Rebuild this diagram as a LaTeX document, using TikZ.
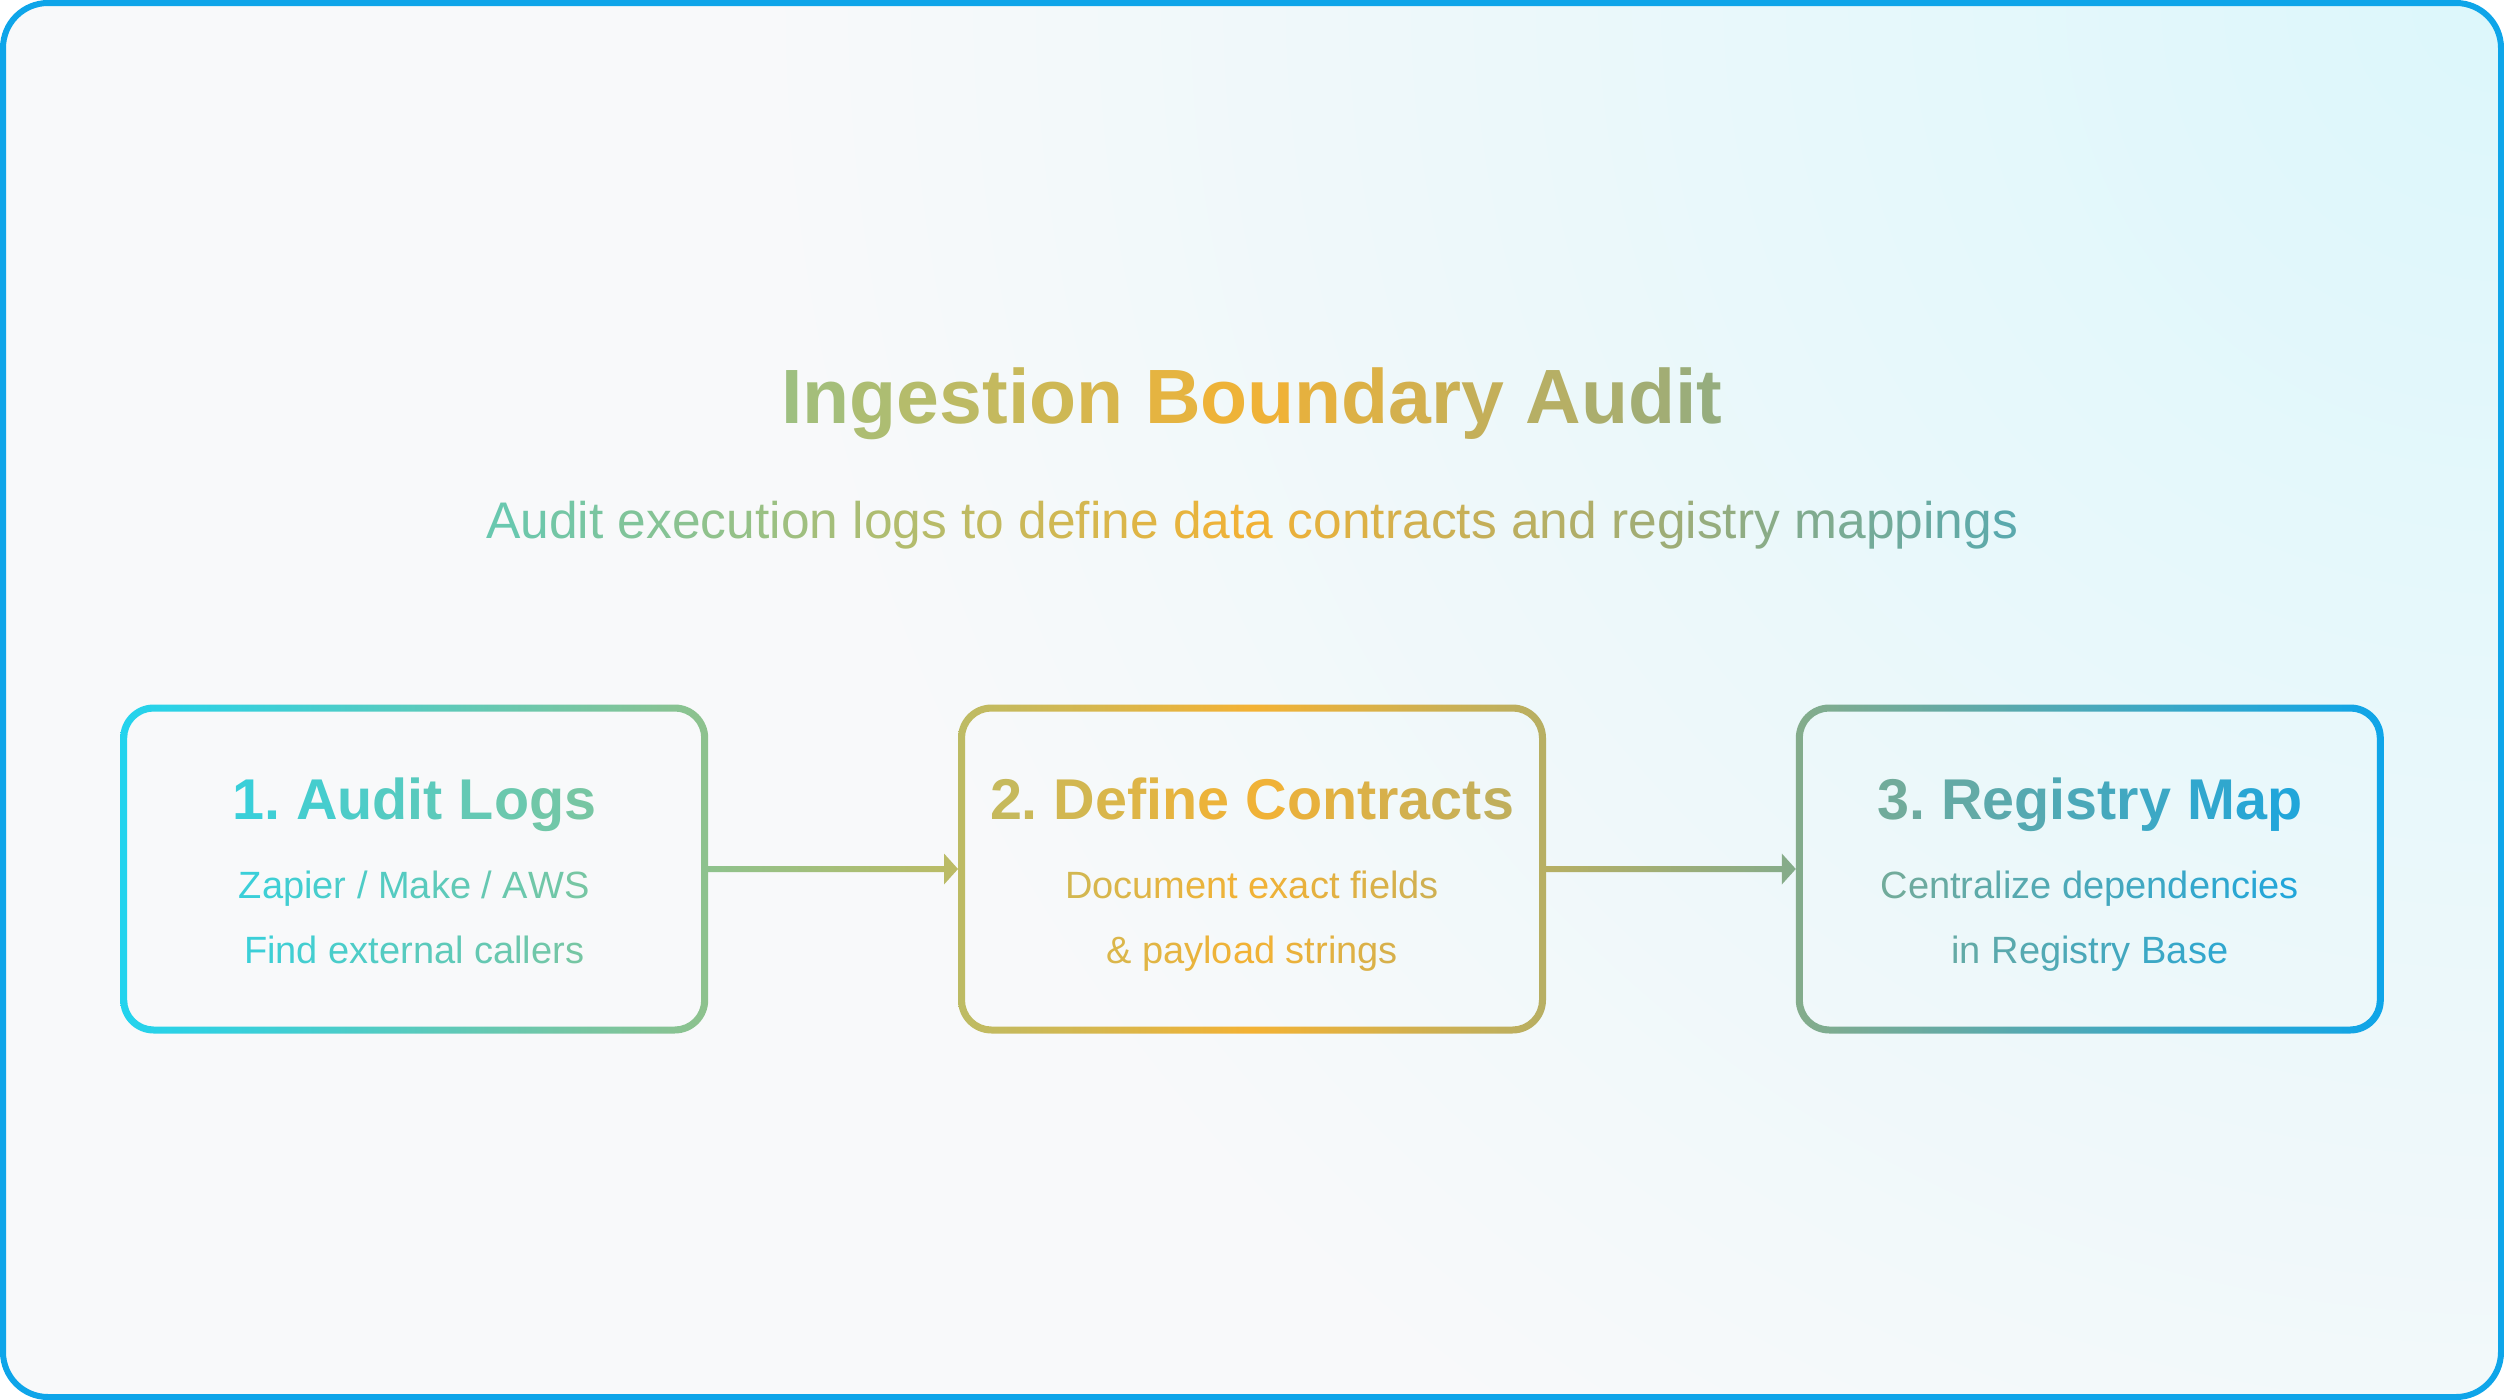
\documentclass[tikz,border=0pt]{standalone}
\usepackage{fontspec}
\setmainfont{Liberation Sans}
\usetikzlibrary{calc}

\definecolor{framec}{RGB}{14,165,233}
\definecolor{bgbase}{RGB}{248,249,250}
\definecolor{bgcyan}{RGB}{220,247,251}

\ExplSyntaxOn
\box_new:N \l__gr_box
\dim_new:N \l__gr_cur_dim
\dim_new:N \l__gr_tot_dim
\dim_new:N \l__gr_w_dim
\fp_new:N \l__gr_t_fp
\tl_new:N \l__gr_rgb_tl
\tl_new:N \l__gr_text_tl
\cs_new_protected:Npn \__gr_sp:
 { \tex_hskip:D \tex_fontdimen:D 2 \tex_font:D \scan_stop: }
\cs_new_protected:Npn \__gr_mix:nnnnnn #1#2#3#4#5#6
 {
  \tl_set:Nx \l__gr_rgb_tl
   {
    \fp_eval:n { round(#1 + (#4 - #1) * \l__gr_t_fp) } ,
    \fp_eval:n { round(#2 + (#5 - #2) * \l__gr_t_fp) } ,
    \fp_eval:n { round(#3 + (#6 - #3) * \l__gr_t_fp) }
   }
 }
\cs_new_protected:Npn \__gr_rgb:n #1
 {
  \fp_compare:nNnTF {#1} < {1250}
   {
    \fp_set:Nn \l__gr_t_fp { max(0, min(1, ((#1) - 123) / 1127)) }
    \__gr_mix:nnnnnn {34}{211}{238}{243}{178}{52}
   }
   {
    \fp_set:Nn \l__gr_t_fp { max(0, min(1, ((#1) - 1250) / 1131)) }
    \__gr_mix:nnnnnn {243}{178}{52}{14}{165}{233}
   }
 }
\NewDocumentCommand \gradcolor { m m }
 {
  \__gr_rgb:n {#2}
  \use:x { \exp_not:N \definecolor {#1} {RGB} { \l__gr_rgb_tl } }
 }
\NewDocumentCommand \gtext { m m }
 {
  \tl_set:Nn \l__gr_text_tl {#2}
  \tl_replace_all:Nnn \l__gr_text_tl { ~ } { \__gr_sp: }
  \dim_zero:N \l__gr_tot_dim
  \tl_map_inline:Nn \l__gr_text_tl
   {
    \hbox_set:Nn \l__gr_box {##1}
    \dim_add:Nn \l__gr_tot_dim { \box_wd:N \l__gr_box }
   }
  \dim_set:Nn \l__gr_cur_dim { #1 pt - \l__gr_tot_dim / 2 }
  \tl_map_inline:Nn \l__gr_text_tl
   {
    \hbox_set:Nn \l__gr_box {##1}
    \dim_set:Nn \l__gr_w_dim { \box_wd:N \l__gr_box }
    \__gr_rgb:n { \dim_to_fp:n { \l__gr_cur_dim + \l__gr_w_dim / 2 } }
    \hbox_to_wd:nn { \l__gr_w_dim } { \use:x { \exp_not:N \color [RGB] { \l__gr_rgb_tl } } ##1 \hss }
    \dim_add:Nn \l__gr_cur_dim { \l__gr_w_dim }
   }
 }
\ExplSyntaxOff

% colours of the global flow gradient at given x positions
\gradcolor{bAl}{120.5}\gradcolor{bAr}{707.9}
\gradcolor{bBl}{958.3}\gradcolor{bBm}{1252}\gradcolor{bBr}{1545.7}
\gradcolor{bCl}{1796.3}\gradcolor{bCr}{2383.5}

\newcommand\boxring[1]{%
  ([shift={(-3.5pt,3.5pt)}]#1.north west) [rounded corners=33.5pt] rectangle ([shift={(3.5pt,-3.5pt)}]#1.south east)
  ([shift={(3.5pt,-3.5pt)}]#1.north west) [rounded corners=26.5pt] rectangle ([shift={(-3.5pt,3.5pt)}]#1.south east)}

\newcommand\flowarrow[2]{%
  ([shift={(3.5pt,3pt)}]#1.east) -- ([shift={(-17.5pt,3pt)}]#2.west) -- ([shift={(-17.5pt,15.5pt)}]#2.west)
  -- ([shift={(-3.5pt,0pt)}]#2.west) -- ([shift={(-17.5pt,-15.5pt)}]#2.west) -- ([shift={(-17.5pt,-3pt)}]#2.west)
  -- ([shift={(3.5pt,-3pt)}]#1.east) -- cycle}

\tikzset{
  gtxt/.style={anchor=base, inner sep=0pt, outer sep=0pt},
  stepbox/.style={rectangle, minimum width=581pt, minimum height=322pt, inner sep=0pt, outer sep=0pt},
  titlefont/.style={font=\fontsize{77}{80}\selectfont\bfseries},
  subfont/.style={font=\fontsize{51.5}{54}\selectfont},
  headfont/.style={font=\fontsize{57.5}{60}\selectfont\bfseries},
  bodyfont/.style={font=\fontsize{38}{40}\selectfont},
}

\begin{document}
\begin{tikzpicture}[x=1pt,y=-1pt]
\useasboundingbox (0,0) rectangle (2504,1400);
% background
\begin{scope}
  \clip[rounded corners=45pt] (3,3) rectangle (2501,1397);
  \fill[bgbase] (0,0) rectangle (2504,1400);
  \shade[inner color=bgcyan, outer color=bgbase] (2504,0) circle (1750);
\end{scope}
\draw[framec, line width=6pt, rounded corners=45pt] (3,3) rectangle (2501,1397);

% title and subtitle
\node[gtxt, titlefont] (title) at (1252,423) {\gtext{1252}{Ingestion Boundary Audit}};
\node[gtxt, subfont] (subtitle) at (1252,538) {\gtext{1252}{Audit execution logs to define data contracts and registry mappings}};

% boxes
\node[stepbox] (b1) at (414.2,869) {};
\node[stepbox] (b2) at (1252,869) {};
\node[stepbox] (b3) at (2089.8,869) {};

\shade[even odd rule, left color=bAl, right color=bAr] \boxring{b1};
\shade[even odd rule, left color=bBl, right color=bBr, middle color=bBm] \boxring{b2};
\shade[even odd rule, left color=bCl, right color=bCr] \boxring{b3};

% box texts
\node[gtxt, headfont] (h1) at (414.2,819) {\gtext{414.2}{1. Audit Logs}};
\node[gtxt, bodyfont] (l1a) at (414.2,898) {\gtext{414.2}{Zapier / Make / AWS}};
\node[gtxt, bodyfont] (l1b) at (414.2,963) {\gtext{414.2}{Find external callers}};

\node[gtxt, headfont] (h2) at (1252,819) {\gtext{1252}{2. Define Contracts}};
\node[gtxt, bodyfont] (l2a) at (1252,898) {\gtext{1252}{Document exact fields}};
\node[gtxt, bodyfont] (l2b) at (1252,963) {\gtext{1252}{\& payload strings}};

\node[gtxt, headfont] (h3) at (2089.8,819) {\gtext{2089.8}{3. Registry Map}};
\node[gtxt, bodyfont] (l3a) at (2089.8,898) {\gtext{2089.8}{Centralize dependencies}};
\node[gtxt, bodyfont] (l3b) at (2089.8,963) {\gtext{2089.8}{in Registry Base}};

% connectors
\gradcolor{aAl}{707.9}\gradcolor{aAr}{958.3}
\gradcolor{aBl}{1545.7}\gradcolor{aBr}{1796.3}
\shade[left color=aAl, right color=aAr] \flowarrow{b1}{b2};
\shade[left color=aBl, right color=aBr] \flowarrow{b2}{b3};
\end{tikzpicture}
\end{document}
